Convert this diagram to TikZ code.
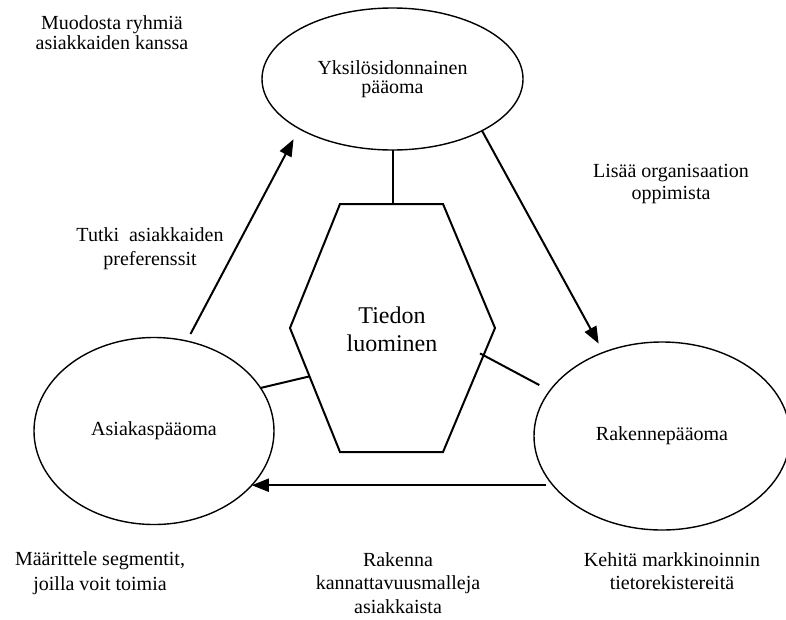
\documentclass[tikz,border=0pt]{standalone}
\usepackage{fontspec}
\setmainfont{Liberation Serif}
\usetikzlibrary{shapes.geometric,arrows.meta,calc}
\begin{document}
\begin{tikzpicture}[x=1pt,y=-1pt,
  capital/.style={draw, ellipse, line width=1.4pt, inner sep=0pt, outer sep=0pt,
    align=center, font=\fontsize{20}{19}\selectfont},
  note/.style={align=center, inner sep=0pt},
  flow/.style={line width=2pt, -{Triangle[length=17pt,width=13pt]}},
  link/.style={line width=2pt},
  hexline/.style={line width=2pt, line join=miter}]
\useasboundingbox (0,0) rectangle (786,619);

% the three forms of capital
\node[capital, minimum width=261pt, minimum height=142pt] (yksilo) at (392.5,79)
  {Yksilösidonnainen\\pääoma};
\node[capital, minimum width=240pt, minimum height=187pt] (asiakas) at (154,431)
  {Asiakaspääoma};
\node[capital, minimum width=256pt, minimum height=188pt] (rakenne) at (662,436)
  {Rakennepääoma};

% knowledge creation hexagon in the middle
\coordinate (hTL) at (340,204);
\coordinate (hTR) at (443,204);
\coordinate (hR)  at (495,328);
\coordinate (hBR) at (443,452);
\coordinate (hBL) at (340,452);
\coordinate (hL)  at (290,328);
\draw[hexline] (hTL) -- (hTR) -- (hR) -- (hBR) -- (hBL) -- (hL) -- cycle;
\node[font=\fontsize{24}{28}\selectfont, align=center] (core) at (392,329)
  {Tiedon\\luominen};

% ports on the hexagon border
\coordinate (hTop) at (yksilo.south |- hTL);
\coordinate (hLeftPort) at ($(hL)!0.39!(hBL)$);
\coordinate (hRightPort) at ($(hR)!0.22!(hBR)$);

% plain links between the capitals and the hexagon
\draw[link] (yksilo.south) -- (hTop);
\draw[link] (asiakas.22) -- (hLeftPort);
\draw[link, shorten <=12pt, shorten >=-4pt] (rakenne.158) -- (hRightPort);

% the cycle of arrows
\draw[flow, shorten <=8pt, shorten >=12pt] (asiakas.70) -- (yksilo.208);
\draw[flow, shorten >=10pt] (yksilo.330) -- (rakenne.125);
\draw[flow, shorten <=7pt] (rakenne.204 |- asiakas.331.6) -- (asiakas.331.6);

% action labels
\node[note, font=\fontsize{20}{20}\selectfont] (n1) at (112,33)
  {Muodosta ryhmiä\\asiakkaiden kanssa};
\node[note, font=\fontsize{20}{24}\selectfont] (n2) at (150,249)
  {Tutki\enspace asiakkaiden\\preferenssit};
\node[note, font=\fontsize{20}{22}\selectfont] (n3) at (671,184)
  {Lisää organisaation\\oppimista};
\node[note, font=\fontsize{20}{25}\selectfont] (n4) at (100,573)
  {Määrittele segmentit,\\joilla voit toimia};
\node[note, font=\fontsize{20}{23.5}\selectfont] (n5) at (398,583)
  {Rakenna\\kannattavuusmalleja\\asiakkaista};
\node[note, font=\fontsize{20}{23}\selectfont] (n6) at (672,571)
  {Kehitä markkinoinnin\\tietorekistereitä};
\end{tikzpicture}
\end{document}
